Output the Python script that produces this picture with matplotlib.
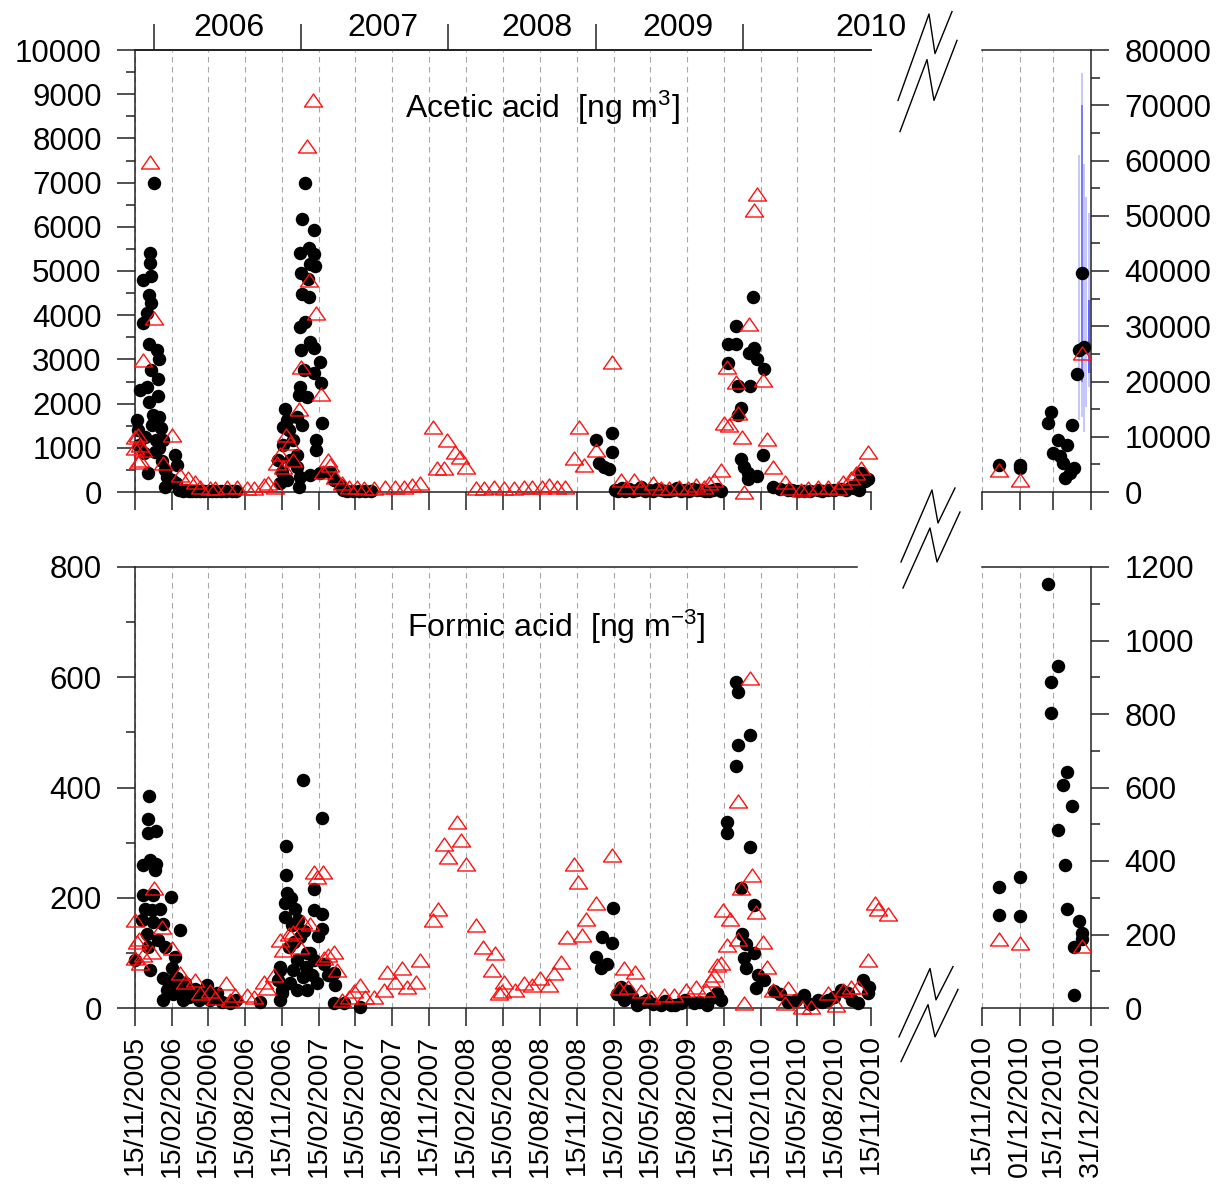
import numpy as np
import pandas as pd
import matplotlib
matplotlib.use('Agg')
import matplotlib.pyplot as plt
import matplotlib.dates as mdates
import matplotlib.transforms as mtransforms
from matplotlib.lines import Line2D
from matplotlib.path import Path
from matplotlib.ticker import MultipleLocator, FormatStrFormatter

plt.rcParams['font.family'] = ['Liberation Sans', 'DejaVu Sans']
plt.rcParams['mathtext.fontset'] = 'custom'
plt.rcParams['mathtext.rm'] = 'Liberation Sans'
plt.rcParams['mathtext.it'] = 'Liberation Sans'

# dia 0 = 15/11/2005 ; pares (dia, concentracao em ng m-3)
inicio = '2005-11-15'
fim = '2010-11-15'

acetico_preto = [
    (48, 7000), (37, 5410), (36, 5170), (39, 4890), (21, 4800), (34, 4460), (40, 4270), (29, 4050),
    (19, 3830), (34, 3350), (54, 3210), (59, 3010), (40, 2760), (56, 2560), (12, 2310), (29, 2380),
    (58, 2170), (35, 2040), (4, 1630), (45, 1740), (60, 1700), (41, 1520), (64, 1450), (51, 1180),
    (70, 1180), (22, 880), (60, 1000), (33, 430), (75, 500), (99, 840), (105, 610), (79, 350),
    (75, 120), (91, 270), (102, 200), (10, 1060), (7, 1400), (26, 1250), (50, 900), (66, 700),
    (110, 40), (118, 30), (126, 50), (134, 20), (142, 30), (152, 20), (162, 30), (172, 20),
    (182, 25), (192, 30), (202, 20), (214, 30), (226, 25), (240, 20), (250, 30),
    (421, 7000), (415, 6180), (445, 5930), (410, 5410), (431, 5510), (443, 5380), (433, 5160),
    (447, 5120), (413, 4950), (428, 4830), (414, 4490), (431, 4420), (410, 3740), (422, 3850),
    (433, 3400), (413, 3210), (443, 3250), (458, 2950), (420, 2760), (443, 2690), (410, 2380),
    (461, 2460), (406, 2190), (427, 2160), (373, 1870), (377, 1630), (402, 1700), (414, 1520),
    (464, 1570), (368, 1480), (450, 1180), (450, 950), (356, 720), (385, 720), (364, 460),
    (402, 570), (377, 270), (410, 350), (435, 380), (460, 420), (484, 460), (360, 200), (406, 120),
    (493, 270), (509, 160), (383, 1400), (393, 1180), (368, 1060), (402, 840),
    (515, 40), (525, 30), (540, 20), (555, 30), (570, 20), (585, 25),
    (1143, 1180), (1184, 1330), (1184, 910), (1151, 650), (1163, 570), (1176, 510),
    (1190, 50), (1198, 20), (1207, 90), (1215, 30), (1225, 60), (1235, 20), (1245, 40), (1255, 120),
    (1265, 20), (1275, 40), (1285, 30), (1295, 70), (1305, 50), (1315, 30), (1325, 20), (1335, 40),
    (1345, 100), (1355, 20), (1365, 40), (1375, 30), (1385, 60), (1395, 40), (1405, 50), (1415, 30),
    (1425, 20), (1435, 40), (1445, 60), (1455, 30),
    (1534, 4420), (1491, 3750), (1470, 3350), (1491, 3350), (1535, 3250), (1524, 3140), (1543, 3020),
    (1470, 2910), (1560, 2780), (1495, 2400), (1526, 2400), (1496, 1740), (1557, 840), (1503, 740),
    (1511, 570), (1520, 420), (1543, 360), (1520, 290), (1582, 120), (1503, 1900),
    (1619, 45), (1660, 30), (1694, 45), (1719, 45), (1752, 60), (1776, 120), (1793, 200), (1801, 440),
    (1818, 300), (1797, 45), (1600, 60), (1630, 40), (1645, 20), (1675, 30), (1705, 20), (1735, 40),
    (1765, 50), (1785, 100), (1810, 250),
]

acetico_vermelho = [
    (36, 7470), (427, 7830), (442, 8870), (47, 3930), (21, 2990), (0, 1250), (8, 1290), (1, 990),
    (12, 1060), (21, 950), (12, 720), (8, 690), (91, 1290), (70, 650), (112, 380), (132, 310),
    (149, 230), (161, 120), (186, 80), (199, 90), (228, 120), (253, 120), (278, 80), (294, 90),
    (319, 160), (331, 200), (348, 120),
    (431, 4800), (450, 4060), (413, 2830), (461, 2220), (407, 1870), (374, 1290), (385, 1100),
    (360, 870), (393, 720), (367, 570), (352, 650), (478, 720), (484, 610), (466, 460), (497, 350),
    (514, 200), (530, 120), (551, 120), (567, 80), (592, 80), (621, 120), (646, 120), (667, 120),
    (687, 160), (708, 200),
    (740, 1480), (774, 1180), (793, 910), (807, 800), (820, 570), (750, 540), (766, 540), (845, 90),
    (865, 80), (890, 120), (915, 80), (940, 80), (965, 120), (986, 120), (1010, 120), (1027, 160),
    (1048, 120), (1068, 120),
    (1101, 1480), (1089, 760), (1114, 610), (1143, 950), (1184, 2950), (1205, 270), (1217, 120),
    (1238, 270), (1255, 120), (1284, 200), (1304, 80), (1325, 80), (1350, 120), (1371, 80),
    (1391, 160), (1412, 120), (1424, 200), (1437, 270), (1453, 500),
    (1468, 2830), (1462, 1550), (1474, 1520), (1491, 2500), (1496, 1780), (1505, 1250), (1524, 3800),
    (1512, 10), (1535, 6390), (1543, 6740), (1557, 2530), (1569, 1210), (1583, 570), (1612, 230),
    (1623, 80), (1652, 45), (1669, 80), (1694, 120), (1719, 120), (1743, 80), (1756, 230),
    (1776, 310), (1789, 420), (1801, 540), (1819, 910),
]

formico_preto = [
    (35, 384), (33, 342), (33, 317), (52, 321), (19, 259), (37, 268), (52, 262), (50, 251), (21, 205),
    (45, 205), (89, 201), (25, 180), (41, 177), (62, 180), (17, 159), (45, 156), (70, 153), (112, 142),
    (29, 135), (58, 123), (33, 111), (75, 111), (99, 93), (1, 87), (37, 69), (70, 54), (91, 72),
    (91, 51), (79, 33), (70, 14), (108, 36), (120, 14), (145, 27), (178, 42), (186, 14), (203, 27),
    (236, 9), (311, 11), (360, 14), (364, 27), (360, 69),
    (85, 40), (95, 25), (105, 55), (115, 30), (125, 45), (135, 20), (150, 35), (160, 15), (170, 25),
    (190, 20), (215, 10), (250, 15),
    (417, 413), (464, 344), (374, 294), (374, 241), (443, 215), (378, 208), (373, 190), (443, 177),
    (464, 171), (373, 165), (389, 150), (464, 144), (410, 129), (381, 111), (427, 99), (402, 87),
    (443, 87), (393, 69), (418, 57), (451, 45), (402, 33), (427, 33), (385, 45), (360, 75), (493, 63),
    (497, 42), (493, 9), (518, 9), (559, 2), (356, 51), (364, 33),
    (395, 120), (405, 160), (420, 140), (435, 100), (455, 130), (470, 80), (480, 60), (440, 60),
    (425, 75), (398, 180), (388, 200),
    (1186, 182), (1159, 129), (1184, 118), (1143, 92), (1170, 80), (1155, 72), (1205, 39), (1222, 30),
    (1234, 20), (1246, 5), (1271, 14), (1304, 5), (1329, 5), (1354, 9), (1387, 9), (1420, 5),
    (1445, 27), (1453, 14),
    (1195, 25), (1212, 15), (1260, 10), (1285, 8), (1315, 12), (1340, 6), (1365, 15), (1400, 10),
    (1430, 18),
    (1491, 591), (1496, 573), (1526, 496), (1496, 478), (1491, 439), (1469, 337), (1469, 317),
    (1526, 292), (1503, 217), (1535, 186), (1507, 135), (1516, 117), (1536, 99), (1511, 90),
    (1516, 72), (1545, 60), (1561, 51), (1540, 36), (1586, 30), (1619, 11), (1660, 24), (1694, 14),
    (1719, 14), (1752, 33), (1768, 27), (1793, 9), (1805, 51), (1822, 39), (1818, 27),
    (1600, 25), (1640, 15), (1675, 8), (1705, 10), (1735, 20), (1780, 15),
]

formico_vermelho = [
    (48, 217), (0, 159), (11, 126), (6, 120), (0, 90), (12, 81), (21, 96), (41, 102), (66, 147),
    (91, 108), (112, 63), (124, 48), (149, 51), (161, 27), (186, 30), (199, 18), (226, 45), (236, 14),
    (248, 24), (278, 24), (294, 20), (319, 48), (327, 36), (344, 60), (360, 123), (368, 105),
    (381, 135), (393, 138), (410, 111), (417, 156), (435, 153), (443, 247), (451, 238), (466, 247),
    (468, 90), (480, 96), (493, 102), (501, 69), (514, 14), (530, 20), (543, 30), (559, 42),
    (571, 20), (592, 20), (617, 33), (625, 66), (646, 48), (663, 72), (675, 39), (696, 48), (706, 87),
    (740, 159), (751, 180), (766, 298), (776, 274), (799, 337), (809, 304), (822, 261), (847, 150),
    (864, 111), (894, 99), (886, 69), (903, 27), (915, 48), (911, 30), (944, 33), (965, 45),
    (986, 42), (1006, 54), (1027, 42), (1039, 63), (1056, 84), (1071, 129), (1089, 262), (1099, 229),
    (1110, 132), (1118, 162), (1143, 190), (1184, 277), (1213, 72), (1240, 66), (1201, 36),
    (1222, 39), (1255, 30), (1280, 20), (1313, 24), (1338, 24), (1366, 33), (1391, 39), (1416, 33),
    (1429, 51), (1437, 60), (1445, 78), (1455, 81), (1468, 114), (1460, 177), (1476, 162),
    (1496, 126), (1503, 217), (1497, 375), (1526, 598), (1532, 241), (1540, 174), (1557, 120),
    (1568, 75), (1511, 9), (1584, 33), (1621, 36), (1612, 9), (1656, 2), (1677, 2), (1719, 27),
    (1739, 5), (1756, 33), (1776, 39), (1793, 39), (1818, 87), (1835, 190), (1843, 180), (1869, 171),
]

# painel da direita: novembro-dezembro 2010
acetico_dez_preto = [
    ('2010-11-22', 4890), ('2010-12-01', 4890), ('2010-12-01', 4290), ('2010-12-14', 14530),
    ('2010-12-13', 12430), ('2010-12-17', 9410), ('2010-12-21', 8510), ('2010-12-15', 7120),
    ('2010-12-18', 6520), ('2010-12-19', 5300), ('2010-12-23', 12130), ('2010-12-24', 4290),
    ('2010-12-22', 3380), ('2010-12-20', 2480), ('2010-12-25', 21300), ('2010-12-26', 25700),
    ('2010-12-28', 26300), ('2010-12-27', 39700),
]
acetico_dez_vermelho = [('2010-11-22', 3980), ('2010-12-01', 2170), ('2010-12-27', 25100)]

# barras de erro (azul)
barras_data = ['2010-12-26', '2010-12-27', '2010-12-27', '2010-12-28', '2010-12-29', '2010-12-30', '2010-12-30']
barras_min = [13000, 13600, 20000, 10900, 15400, 19000, 21500]
barras_max = [61000, 75800, 70000, 59400, 53400, 50500, 34800]
barras_alfa = [0.3, 0.3, 0.55, 0.3, 0.3, 0.3, 0.7]

formico_dez_preto = [
    ('2010-12-13', 1155), ('2010-12-17', 931), ('2010-12-14', 887), ('2010-12-14', 803),
    ('2010-12-21', 643), ('2010-12-19', 607), ('2010-12-23', 549), ('2010-12-17', 484),
    ('2010-12-20', 388), ('2010-12-21', 269), ('2010-12-26', 237), ('2010-12-27', 204),
    ('2010-12-27', 187), ('2010-12-24', 165), ('2010-12-24', 36), ('2010-11-22', 329),
    ('2010-11-22', 254), ('2010-12-01', 357), ('2010-12-01', 251),
]
formico_dez_vermelho = [('2010-11-22', 187), ('2010-12-01', 178), ('2010-12-27', 170)]

rotulos_esq = ['15/11/2005', '15/02/2006', '15/05/2006', '15/08/2006', '15/11/2006', '15/02/2007',
               '15/05/2007', '15/08/2007', '15/11/2007', '15/02/2008', '15/05/2008', '15/08/2008',
               '15/11/2008', '15/02/2009', '15/05/2009', '15/08/2009', '15/11/2009', '15/02/1010',
               '15/05/2010', '15/08/2010', '15/11/2010']
datas_dir = ['2010-11-15', '2010-12-01', '2010-12-15', '2010-12-31']
rotulos_dir = ['15/11/2010', '01/12/2010', '15/12/2010', '31/12/2010']
anos = ['2006', '2007', '2008', '2009', '2010']

# ---------------------------------------------------------------
W, H = 1231, 1184
fig = plt.figure(figsize=(W / 100, H / 100), dpi=100)
fig.patch.set_facecolor('white')


def caixa(x0, x1, y0, y1):
    return fig.add_axes([x0 / W, 1 - y1 / H, (x1 - x0) / W, (y1 - y0) / H])


ax_ac = caixa(135, 871, 50, 492)
ax_ac2 = caixa(982, 1091, 50, 492)
ax_fo = caixa(135, 871, 567, 1008)
ax_fo2 = caixa(982, 1091, 567, 1008)

d0 = mdates.date2num(np.datetime64(inicio))
d1 = mdates.date2num(np.datetime64(fim))
trimestres = mdates.date2num(pd.date_range(inicio, fim, freq=pd.DateOffset(months=3)).values)
pos_dir = mdates.date2num(np.array(datas_dir, dtype='datetime64[D]'))

triangulo = Path([(-1, -0.72), (1, -0.72), (0, 0.72), (-1, -0.72)],
                 [Path.MOVETO, Path.LINETO, Path.LINETO, Path.CLOSEPOLY])


def estilo(ax, lado):
    for s in ax.spines.values():
        s.set_linewidth(1.1)
        s.set_color('#222222')
    if lado == 'esq':
        ax.spines['right'].set_visible(False)
    else:
        ax.spines['left'].set_visible(False)
        ax.yaxis.tick_right()
    ax.tick_params(axis='both', which='major', direction='out', length=13, width=1.1,
                   labelsize=22.5, color='#222222')
    ax.tick_params(axis='y', which='major', pad=11)
    ax.tick_params(axis='x', which='major', pad=6, labelsize=20.5)
    ax.tick_params(axis='y', which='minor', direction='out', length=6.5, width=1.1, color='#222222')
    ax.tick_params(axis='x', which='minor', length=0)
    ax.yaxis.set_major_formatter(FormatStrFormatter('%d'))
    ax.grid(axis='x', linestyle=(0, (5, 4)), color='#a8a8a8', linewidth=0.8)
    ax.set_axisbelow(True)


def pontos(ax, x, y, cor):
    if cor == 'preto':
        ax.plot(x, y, 'o', color='black', ms=9.7, mew=0, clip_on=False, zorder=3)
    else:
        ax.plot(x, y, ls='none', marker=triangulo, ms=13, mfc='none', mec='#ff1010',
                mew=1.0, clip_on=False, zorder=4)


def esq(pares):
    a = np.array(pares, dtype=float)
    return d0 + a[:, 0], a[:, 1]


def dir_(pares):
    datas = np.array([p[0] for p in pares], dtype='datetime64[D]')
    return mdates.date2num(datas), np.array([p[1] for p in pares], dtype=float)


# painel acido acetico
for ax in (ax_ac, ax_fo):
    estilo(ax, 'esq')
    ax.set_xlim(d0, d1)
    ax.set_xticks(trimestres)
for ax in (ax_ac2, ax_fo2):
    estilo(ax, 'dir')
    ax.set_xlim(pos_dir[0], pos_dir[-1])
    ax.set_xticks(pos_dir)

ax_ac.set_xticklabels([])
ax_ac2.set_xticklabels([])
ax_fo.set_xticklabels(rotulos_esq, rotation=90)
ax_fo2.set_xticklabels(rotulos_dir, rotation=90)

ax_ac.set_ylim(0, 10000)
ax_ac.yaxis.set_major_locator(MultipleLocator(1000))
ax_ac.yaxis.set_minor_locator(MultipleLocator(500))
ax_ac2.set_ylim(0, 80000)
ax_ac2.yaxis.set_major_locator(MultipleLocator(10000))
ax_ac2.yaxis.set_minor_locator(MultipleLocator(5000))
ax_fo.set_ylim(0, 800)
ax_fo.yaxis.set_major_locator(MultipleLocator(200))
ax_fo.yaxis.set_minor_locator(MultipleLocator(100))
ax_fo2.set_ylim(0, 1200)
ax_fo2.yaxis.set_major_locator(MultipleLocator(200))
ax_fo2.yaxis.set_minor_locator(MultipleLocator(100))
ax_fo.spines['top'].set_bounds(d0, d0 + (856 - 135) * 2.4845)

pontos(ax_ac, *esq(acetico_preto), 'preto')
pontos(ax_ac, *esq(acetico_vermelho), 'vermelho')
pontos(ax_fo, *esq(formico_preto), 'preto')
pontos(ax_fo, *esq(formico_vermelho), 'vermelho')

xb = mdates.date2num(np.array(barras_data, dtype='datetime64[D]'))
for x, lo, hi, al in zip(xb, barras_min, barras_max, barras_alfa):
    ax_ac2.vlines(x, lo, hi, colors='#2020ff', alpha=al, linewidth=1.2, zorder=2)
pontos(ax_ac2, *dir_(acetico_dez_preto), 'preto')
pontos(ax_ac2, *dir_(acetico_dez_vermelho), 'vermelho')
pontos(ax_fo2, *dir_(formico_dez_preto), 'preto')
pontos(ax_fo2, *dir_(formico_dez_vermelho), 'vermelho')

ax_ac.text(0.367, 0.869, 'Acetic acid  [ng m$^{3}$]', transform=ax_ac.transAxes,
           fontsize=23, ha='left', va='center')
ax_fo.text(0.37, 0.864, 'Formic acid  [ng m$^{-3}$]', transform=ax_fo.transAxes,
           fontsize=23, ha='left', va='center')

# anos no topo
viradas = mdates.date2num(np.array(['2006-01-01', '2007-01-01', '2008-01-01', '2009-01-01',
                                    '2010-01-01'], dtype='datetime64[D]'))
sec = ax_ac.secondary_xaxis('top')
sec.set_xticks(viradas)
sec.set_xticklabels([])
sec.tick_params(direction='out', length=19, width=1.1, color='#222222')
sec.spines['top'].set_linewidth(1.1)
trans = mtransforms.blended_transform_factory(ax_ac.transData, ax_ac.transAxes)
for ano, dia in zip(anos, [234, 614, 996, 1347, 1826]):
    ax_ac.text(d0 + dia, 1.05, ano, transform=trans, fontsize=23, ha='center', va='center')


# simbolos de quebra de eixo
def quebra(x0, y0, ex=1.0, ey=1.0):
    for lin in ([(1, 2), (32, -70), (38, -37), (55, -72)],
                [(3, 28), (30, -32), (37, 2), (60, -48)]):
        xs = [(x0 + ex * dx) / W for dx, dy in lin]
        ys = [1 - (y0 + ey * dy) / H for dx, dy in lin]
        fig.add_artist(Line2D(xs, ys, color='black', lw=1.0))


quebra(897, 98, 1.0, 1.2)
quebra(900, 560)
quebra(898, 1035, 1.0, 0.95)

fig.savefig('out.png', dpi=100)
